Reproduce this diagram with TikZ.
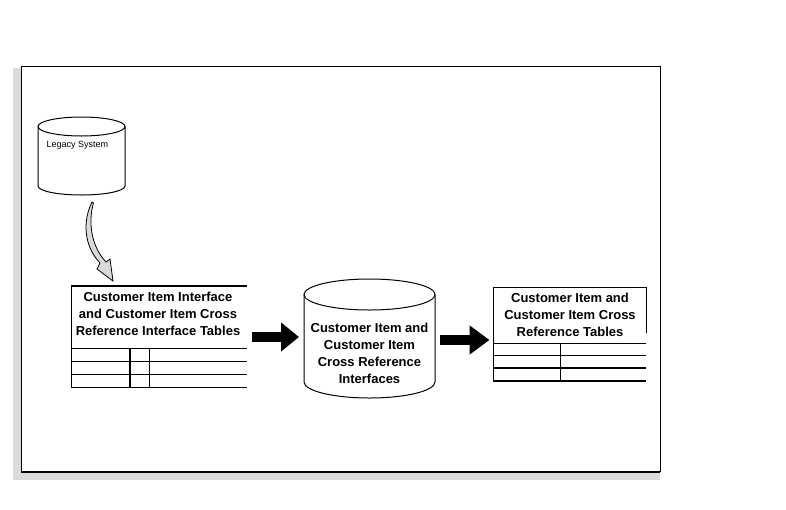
\documentclass[tikz,border=0pt]{standalone}
\usepackage{fontspec}
\setmainfont{Liberation Sans}
\usetikzlibrary{arrows.meta}
\begin{document}
\begin{tikzpicture}[x=1pt,y=-1pt,
  line width=1pt,
  boxlabel/.style={font=\bfseries\fontsize{13}{17}\selectfont,align=center,inner sep=0pt},
  smalllabel/.style={font=\fontsize{9}{11}\selectfont,inner sep=0pt,anchor=west},
  bigarrow/.style={line width=10pt,-{Triangle[length=18pt,width=28pt]}},
  thick line/.style={line width=2pt}]
\useasboundingbox (0,0) rectangle (786,509);
% shadow and frame
\fill[black!14] (13,68) rectangle (660,480);
\fill[white] (21,66) rectangle (660,472);
\draw (21,472) -- (21,66) -- (660,66) -- (660,472);
\draw[thick line] (21,472) -- (660,472);
% shape areas as named nodes
\node[inner sep=0pt,minimum width=87pt,minimum height=78pt] (legacy) at (81.5,156) {};
\node[inner sep=0pt,minimum width=176pt,minimum height=101pt] (lefttab) at (159,336.5) {};
\node[inner sep=0pt,minimum width=131pt,minimum height=119pt] (midcyl) at (369.5,338.5) {};
\node[inner sep=0pt,minimum width=153pt,minimum height=94pt] (righttab) at (569.5,334) {};
% legacy cylinder
\draw (38,126.5) -- (38,186) arc[start angle=180,end angle=0,x radius=43.5,y radius=9] -- (125,126.5);
\draw (81.5,126.5) ellipse[x radius=43.5,y radius=9.5];
\node[smalllabel] (legacytext) at (46,145) {Legacy System};
% curved gray arrow
\filldraw[fill=black!15,draw=black,line width=0.8pt]
  (92,202) .. controls (83,220) and (83,245) .. (100,263)
  -- (97,269) -- (113,281) -- (110,259) -- (106,262)
  .. controls (91,246) and (88,222) .. (93.5,203) -- cycle;
% left table
\draw[thick line] (71,286) -- (247,286);
\draw (71,285) -- (71,387) -- (247,387);
\draw (71,348) -- (247,348);
\draw (71,361) -- (247,361);
\draw (71,374) -- (247,374);
\draw[thick line] (130,348) -- (130,387);
\draw (149,348) -- (149,387);
\node[boxlabel] (lefttext) at (158,314) {Customer Item Interface\\and Customer Item Cross\\Reference Interface Tables};
% middle cylinder
\draw (304,294.5) -- (304,382) arc[start angle=180,end angle=0,x radius=65.5,y radius=16] -- (435,294.5);
\draw (369.5,294.5) ellipse[x radius=65.5,y radius=15.5];
\node[boxlabel] (midtext) at (369.5,353.5) {Customer Item and\\Customer Item\\Cross Reference\\Interfaces};
% right table
\draw (646,333) -- (646,287) -- (493,287) -- (493,381);
\draw (493,343) -- (646,343);
\draw (493,355) -- (646,355);
\draw[thick line] (493,368) -- (646,368);
\draw[thick line] (493,381) -- (646,381);
\draw (560.5,343) -- (560.5,381);
\node[boxlabel] (righttext) at (570,315) {Customer Item and\\Customer Item Cross\\Reference Tables};
% big arrows
\draw[bigarrow] ([xshift=4pt,yshift=-0.5pt]lefttab.east) -- ([xshift=-4.5pt,yshift=-0.5pt]lefttab.east -| midcyl.west);
\draw[bigarrow,-{Triangle[length=20pt,width=28pt]}] ([xshift=4.5pt,yshift=-1.5pt]midcyl.east) -- ([xshift=-3pt,yshift=-1.5pt]midcyl.east -| righttab.west);
\end{tikzpicture}
\end{document}
